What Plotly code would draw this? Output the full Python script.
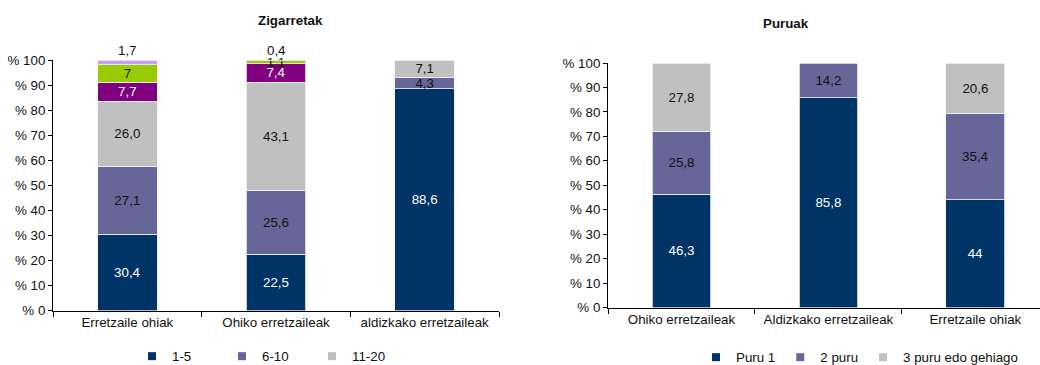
import plotly.graph_objects as go

# ---------------- data ----------------
cig_categories = ["Erretzaile ohiak", "Ohiko erretzaileak", "aldizkako erretzaileak"]
cig_1_5 = [30.4, 22.5, 88.6]
cig_6_10 = [27.1, 25.6, 4.3]
cig_11_20 = [26.0, 43.1, 7.1]
cig_21_30 = [7.7, 7.4, None]
cig_31_40 = [7, 1.1, None]
cig_41_more = [1.7, 0.4, None]

cigar_categories = ["Ohiko erretzaileak", "Aldizkako erretzaileak", "Erretzaile ohiak"]
cigar_1 = [46.3, 85.8, 44]
cigar_2 = [25.8, 14.2, 35.4]
cigar_3 = [27.8, None, 20.6]

y_ticks = [0, 10, 20, 30, 40, 50, 60, 70, 80, 90, 100]
y_tick_labels = ["% " + str(v) for v in y_ticks]

# ---------------- style ----------------
NAVY = "#003366"
SLATE = "#666699"
GREY = "#C0C0C0"
PURPLE = "#800080"
GREEN = "#99CC00"
LILAC = "#CC99FF"
FONT = "Arial, 'Liberation Sans', sans-serif"
FS = 13.33
TXT = "#111111"
W, H = 1040, 365


def lab(vals):
    return ["" if v is None else str(v).replace(".", ",") for v in vals]


fig = go.Figure()

left_series = [
    ("1-5", cig_1_5, NAVY, "white", "inside", True),
    ("6-10", cig_6_10, SLATE, TXT, "inside", True),
    ("11-20", cig_11_20, GREY, TXT, "inside", True),
    ("21-30", cig_21_30, PURPLE, "white", "inside", False),
    ("31-40", cig_31_40, GREEN, TXT, "inside", False),
    ("41+", cig_41_more, LILAC, TXT, "none", False),
]
for name, vals, col, tcol, tpos, _ in left_series:
    fig.add_trace(go.Bar(
        x=cig_categories, y=vals, name=name, text=lab(vals),
        textposition=tpos, insidetextanchor="middle", textangle=0,
        constraintext="none", cliponaxis=False,
        textfont=dict(color=tcol, size=FS, family=FONT),
        marker=dict(color=col, line=dict(color="#f2f2f2", width=0.8)),
        width=0.4, xaxis="x", yaxis="y", showlegend=False,
    ))

right_series = [
    ("Puru 1", cigar_1, NAVY, "white"),
    ("2 puru", cigar_2, SLATE, TXT),
    ("3 puru edo gehiago", cigar_3, GREY, TXT),
]
for name, vals, col, tcol in right_series:
    fig.add_trace(go.Bar(
        x=cigar_categories, y=vals, name=name, text=lab(vals),
        textposition="inside", insidetextanchor="middle", textangle=0,
        constraintext="none", cliponaxis=False,
        textfont=dict(color=tcol, size=FS, family=FONT),
        marker=dict(color=col, line=dict(color="#f2f2f2", width=0.8)),
        width=0.4, xaxis="x2", yaxis="y2", showlegend=False,
    ))

# legend entries (small square swatches)
for name, vals, col, tcol, tpos, show in left_series:
    if show:
        fig.add_trace(go.Scatter(
            x=[None], y=[None], mode="markers", name=name,
            marker=dict(symbol="square", size=8, color=col),
            xaxis="x", yaxis="y", legend="legend", showlegend=True))
for name, vals, col, tcol in right_series:
    fig.add_trace(go.Scatter(
        x=[None], y=[None], mode="markers", name=name,
        marker=dict(symbol="square", size=8, color=col),
        xaxis="x2", yaxis="y2", legend="legend2", showlegend=True))

# labels of the thin top segments, placed just above the stack top
annotations = []
left_stack = [cig_1_5, cig_6_10, cig_11_20, cig_21_30, cig_31_40, cig_41_more]
for i, cat in enumerate(cig_categories):
    v = cig_41_more[i]
    if v is None:
        continue
    top = sum(s[i] for s in left_stack if s[i] is not None)
    annotations.append(dict(
        x=cat, y=min(top, 100), xref="x", yref="y", text=lab([v])[0],
        showarrow=False, yanchor="bottom",
        font=dict(size=FS, family=FONT, color=TXT)))

annotations += [
    dict(text="<b>Zigarretak</b>", x=256 / W, y=(H - 20) / H, xref="paper",
         yref="paper", showarrow=False, yanchor="middle",
         font=dict(size=FS, family=FONT, color=TXT)),
    dict(text="<b>Puruak</b>", x=811 / W, y=(H - 24) / H, xref="paper",
         yref="paper", showarrow=False, yanchor="middle",
         font=dict(size=FS, family=FONT, color=TXT)),
]

axis_common = dict(showline=True, linecolor="black", linewidth=1,
                   ticks="outside", tickcolor="black", showgrid=False,
                   zeroline=False, tickfont=dict(size=FS, family=FONT, color=TXT))

fig.update_layout(
    width=W, height=H, barmode="stack",
    margin=dict(l=0, r=0, t=0, b=0, autoexpand=False),
    paper_bgcolor="white", plot_bgcolor="white",
    font=dict(family=FONT, size=FS, color=TXT),
    xaxis=dict(domain=[53 / W, 499 / W], anchor="y", type="category",
               range=[-0.5, 2.5], tickson="boundaries", ticklen=5,
               categoryorder="array", categoryarray=cig_categories, **axis_common),
    yaxis=dict(domain=[(H - 310.5) / H, (H - 60) / H], anchor="x",
               range=[0, 100], tickvals=y_ticks, ticktext=y_tick_labels, ticklen=4,
               **axis_common),
    xaxis2=dict(domain=[608 / W, 1.0], anchor="y2", type="category",
                range=[-0.5, 2.44], tickson="boundaries", ticklen=5,
                categoryorder="array", categoryarray=cigar_categories, **axis_common),
    yaxis2=dict(domain=[(H - 307.5) / H, (H - 63) / H], anchor="x2",
                range=[0, 100], tickvals=y_ticks, ticktext=y_tick_labels, ticklen=4,
                **axis_common),
    legend=dict(orientation="h", x=132 / W, y=(H - 341) / H, xanchor="left",
                yanchor="top", entrywidth=45, entrywidthmode="pixels",
                traceorder="normal",
                bgcolor="rgba(0,0,0,0)", font=dict(size=FS, family=FONT, color=TXT)),
    legend2=dict(orientation="h", x=696 / W, y=(H - 342) / H, xanchor="left",
                 yanchor="top", traceorder="normal", bgcolor="rgba(0,0,0,0)",
                 font=dict(size=FS, family=FONT, color=TXT)),
    annotations=annotations,
)

fig.write_html(
    "out.html",
    config={"displayModeBar": False},
    post_script="document.body.style.margin='0';document.body.style.padding='0';"
                "document.body.style.overflow='hidden';",
)
